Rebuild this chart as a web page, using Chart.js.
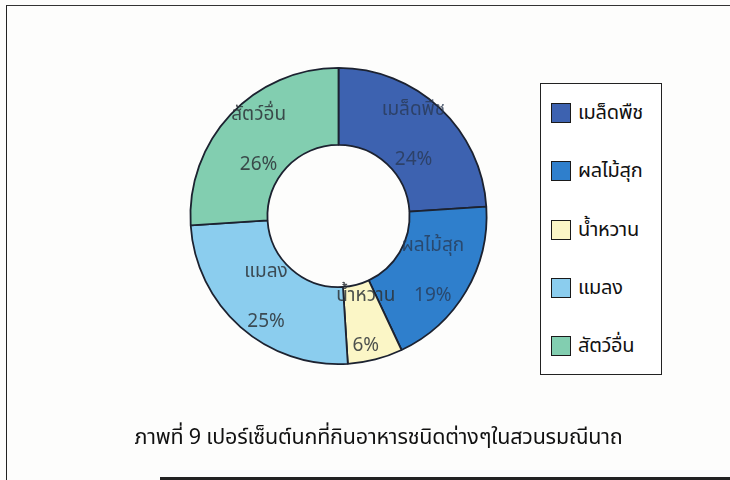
<!DOCTYPE html>
<html lang="th">
<head>
<meta charset="utf-8">
<script src="https://cdn.jsdelivr.net/npm/chart.js@4/dist/chart.umd.min.js"></script>
<style>
  html, body { margin: 0; padding: 0; background: #fdfdfc; }
  #wrap { position: relative; width: 730px; height: 480px; overflow: hidden; }
  #frame {
    position: absolute; left: 6px; top: 5px; width: 740px; height: 500px;
    border-left: 1.5px solid #222; border-top: 1.5px solid #333;
  }
  #baseLine { position: absolute; left: 160px; top: 477px; width: 580px; height: 3px; background: #222; }
  #pie { position: absolute; left: 0; top: 0; }
  #legend {
    position: absolute; left: 540px; top: 83px; width: 122px; height: 292px;
    border: 1.2px solid #222; box-sizing: border-box; background: #fff;
  }
  .item { position: absolute; left: 10px; height: 24px; display: flex; align-items: center; }
  .sw { width: 20px; height: 20px; border: 1.5px solid #1a1a1a; box-sizing: border-box; margin-right: 7px; }
  .lbl { font: 20px "Noto Sans Thai", "Noto Sans", "DejaVu Sans", sans-serif; color: #111; white-space: nowrap; letter-spacing: -0.3px; }
  #caption {
    position: absolute; left: 0; top: 421px; width: 757px; text-align: center;
    font: 21.5px "Noto Sans Thai", "Noto Sans", "DejaVu Sans", sans-serif; color: #111; letter-spacing: -0.2px;
  }
</style>
</head>
<body>
<div id="wrap">
  <div id="frame"></div>
  <div id="baseLine"></div>
  <canvas id="pie" width="730" height="480"></canvas>
  <div id="legend"></div>
  <div id="caption">ภาพที่ 9 เปอร์เซ็นต์นกที่กินอาหารชนิดต่างๆในสวนรมณีนาถ</div>
</div>
<script>
// ประเภทอาหารและเปอร์เซ็นต์นก
const foodTypes = ['เมล็ดพืช', 'ผลไม้สุก', 'น้ำหวาน', 'แมลง', 'สัตว์อื่น'];
const birdPercent = [24, 19, 6, 25, 26];
const sliceColors = ['#3d62b0', '#2f7fcc', '#fbf6c6', '#8bcdee', '#82ceb0'];
const legendTops = [100, 158, 217, 275, 333];

// ---- legend ----
const legendEl = document.getElementById('legend');
foodTypes.forEach((name, i) => {
    const row = document.createElement('div');
    row.className = 'item';
    row.style.top = legendTops[i] - 83 + 'px';
    row.innerHTML = '<span class="sw" style="background:' + sliceColors[i] + '"></span>' +
                    '<span class="lbl">' + name + '</span>';
    legendEl.appendChild(row);
});

// ---- ชื่อและเปอร์เซ็นต์กลางชิ้น ----
const sliceLabels = {
    id: 'sliceLabels',
    afterDatasetsDraw(chart) {
        const ctx = chart.ctx;
        const meta = chart.getDatasetMeta(0);
        ctx.save();
        ctx.textAlign = 'center';
        ctx.textBaseline = 'middle';
        ctx.font = '19px "Noto Sans Thai", "Noto Sans", "DejaVu Sans", sans-serif';
        meta.data.forEach((arc, i) => {
            const mid = (arc.startAngle + arc.endAngle) / 2;
            const r = (arc.innerRadius + arc.outerRadius) / 2;
            const x = arc.x + Math.cos(mid) * r;
            const y = arc.y + Math.sin(mid) * r;
            ctx.fillStyle = i < 2 ? 'rgba(40,55,80,0.75)' : 'rgba(45,50,55,0.85)';
            ctx.fillText(foodTypes[i], x, y - 25);
            ctx.fillText(birdPercent[i] + '%', x, y + 25);
        });
        ctx.restore();
    }
};

new Chart(document.getElementById('pie').getContext('2d'), {
    type: 'doughnut',
    data: {
        labels: foodTypes,
        datasets: [{
            data: birdPercent,
            backgroundColor: sliceColors,
            borderColor: '#1c2230',
            borderWidth: 1.8,
        }]
    },
    options: {
        responsive: false,
        animation: false,
        cutout: '48%',
        layout: { padding: { left: 189, right: 242, top: 67, bottom: 115 } },
        plugins: {
            legend: { display: false },
            tooltip: { enabled: false }
        }
    },
    plugins: [sliceLabels]
});
</script>
</body>
</html>
